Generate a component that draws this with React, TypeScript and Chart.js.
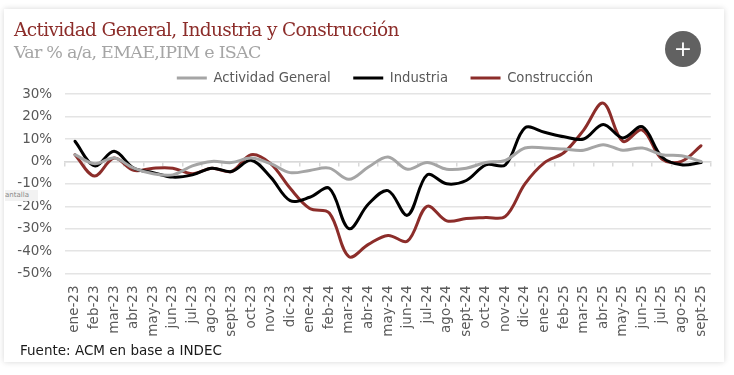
import React, { useEffect, useRef } from "react";
import { Chart, registerables } from "chart.js";

Chart.register(...registerables);

const categories = ["ene-23","feb-23","mar-23","abr-23","may-23","jun-23","jul-23","ago-23","sept-23","oct-23","nov-23","dic-23","ene-24","feb-24","mar-24","abr-24","may-24","jun-24","jul-24","ago-24","sept-24","oct-24","nov-24","dic-24","ene-25","feb-25","mar-25","abr-25","may-25","jun-25","jul-25","ago-25","sept-25"];
const actividadGeneral = [3,-1,1.5,-3,-5.5,-6,-2,0,-0.5,1.5,-1,-5,-4,-3,-8,-2.5,2,-3.5,-0.5,-3.5,-3,-0.5,0.5,6,6,5.5,5,7.5,5,6,3,2.5,0];
const industria = [9,-2,4.5,-3,-5,-7,-6,-3,-4.5,0.5,-7,-17.5,-16,-12,-30,-19,-13,-24,-6,-10,-8.5,-1.5,-1.5,15,13,11,10,16.5,10.5,15.5,2,-1.5,-0.5];
const construccion = [3,-6.5,1.5,-4,-3,-3,-5.5,-3,-4.5,3,-1,-12,-21,-23,-42.5,-37,-33,-35.5,-20,-26.5,-25.5,-25,-24.5,-10,-0.5,4,14,26,9,14,1,0,7];

const sans = "'DejaVu Sans', Verdana, sans-serif";
const serif = "'DejaVu Serif', Georgia, serif";

const nudgeLegend = {
  id: "nudgeLegend",
  afterLayout(chart: any) {
    const l = chart.legend;
    l.top += 0.5;
    l.bottom += 0.5;
    l.left -= 3;
    l.right -= 3;
  },
};

export default function App() {
  const ref = useRef<HTMLCanvasElement>(null);
  useEffect(() => {
    const chart = new Chart(ref.current!, {
      type: "line",
      data: {
        labels: categories,
        datasets: [
          { label: "Actividad General", data: actividadGeneral, borderColor: "#a5a5a5", backgroundColor: "#a5a5a5" },
          { label: "Industria", data: industria, borderColor: "#000000", backgroundColor: "#000000" },
          { label: "Construcción", data: construccion, borderColor: "#8c2d2a", backgroundColor: "#8c2d2a" },
        ].map((d) => ({ ...d, borderWidth: 3, pointRadius: 0, tension: 0.35, borderCapStyle: "round" as const })),
      },
      plugins: [nudgeLegend],
      options: {
        animation: false,
        responsive: false,
        layout: { padding: { top: 48.5, left: 5, right: 23.2, bottom: 0 } },
        plugins: {
          title: { display: false },
          tooltip: { enabled: false },
          legend: {
            position: "top",
            fullSize: false,
            labels: {
              usePointStyle: true,
              pointStyle: "line",
              pointStyleWidth: 30,
              padding: 22.5,
              color: "#595959",
              font: { family: sans, size: 13.2 },
              boxHeight: 13,
            },
          },
        },
        scales: {
          x: {
            offset: true,
            grid: { display: false },
            border: { display: false },
            afterFit: (s: any) => { s.height = 375 - 273.5; },
            ticks: { autoSkip: false, minRotation: 90, maxRotation: 90, color: "#595959", padding: 4, font: { family: sans, size: 13.5 } },
          },
          x2: {
            type: "category",
            labels: categories,
            position: { y: 0 },
            offset: true,
            grid: { offset: true, drawOnChartArea: false, drawTicks: true, tickLength: 4, color: "#d9d9d9", lineWidth: 1.5 },
            border: { color: "#d9d9d9", width: 1.5 },
            ticks: { display: false },
          } as any,
          y: {
            min: -50,
            max: 30,
            afterFit: (s: any) => { s.width = 60.2; },
            grid: { color: "#e4e4e4", lineWidth: 1.5, drawTicks: false },
            border: { display: false },
            ticks: { stepSize: 10, padding: 13, color: "#595959", font: { family: sans, size: 13.5 }, callback: (v: any) => `${v}%` },
          },
        },
      },
    });
    return () => chart.destroy();
  }, []);

  return (
    <div style={{ position: "absolute", left: 0, top: 0, width: 734, height: 375, background: "#fff", overflow: "hidden", filter: "blur(0.35px)" }}>
      <div style={{ position: "absolute", left: 4, top: 9, width: 720, height: 353, background: "#fff", boxShadow: "0 0 6px rgba(0,0,0,0.16)" }} />
      <canvas ref={ref} width={734} height={375} style={{ position: "absolute", left: 0, top: 0, display: "block" }} />
      <div style={{ position: "absolute", left: 14, top: 19, fontFamily: serif, fontSize: 18.5, letterSpacing: -0.65, color: "#8c2d2a", whiteSpace: "nowrap" }}>Actividad General, Industria y Construcción</div>
      <div style={{ position: "absolute", left: 14, top: 42, fontFamily: serif, fontSize: 17.5, letterSpacing: -0.76, color: "#a5a5a5", whiteSpace: "nowrap" }}>Var % a/a, EMAE,IPIM e ISAC</div>
      <div style={{ position: "absolute", left: 20, top: 342, fontFamily: sans, fontSize: 13.5, color: "#1a1a1a", whiteSpace: "nowrap" }}>Fuente: ACM en base a INDEC</div>
      <div style={{ position: "absolute", left: 665, top: 31, width: 36, height: 36, borderRadius: 18, background: "#616161", color: "#fff", fontFamily: sans, fontSize: 22, lineHeight: "35px", textAlign: "center" }}>+</div>
      <div style={{ position: "absolute", left: 5, top: 190, width: 33, height: 11, background: "#f2f2f2", color: "#888", fontFamily: sans, fontSize: 7, lineHeight: "11px", overflow: "hidden", whiteSpace: "nowrap" }}>antalla</div>
    </div>
  );
}
